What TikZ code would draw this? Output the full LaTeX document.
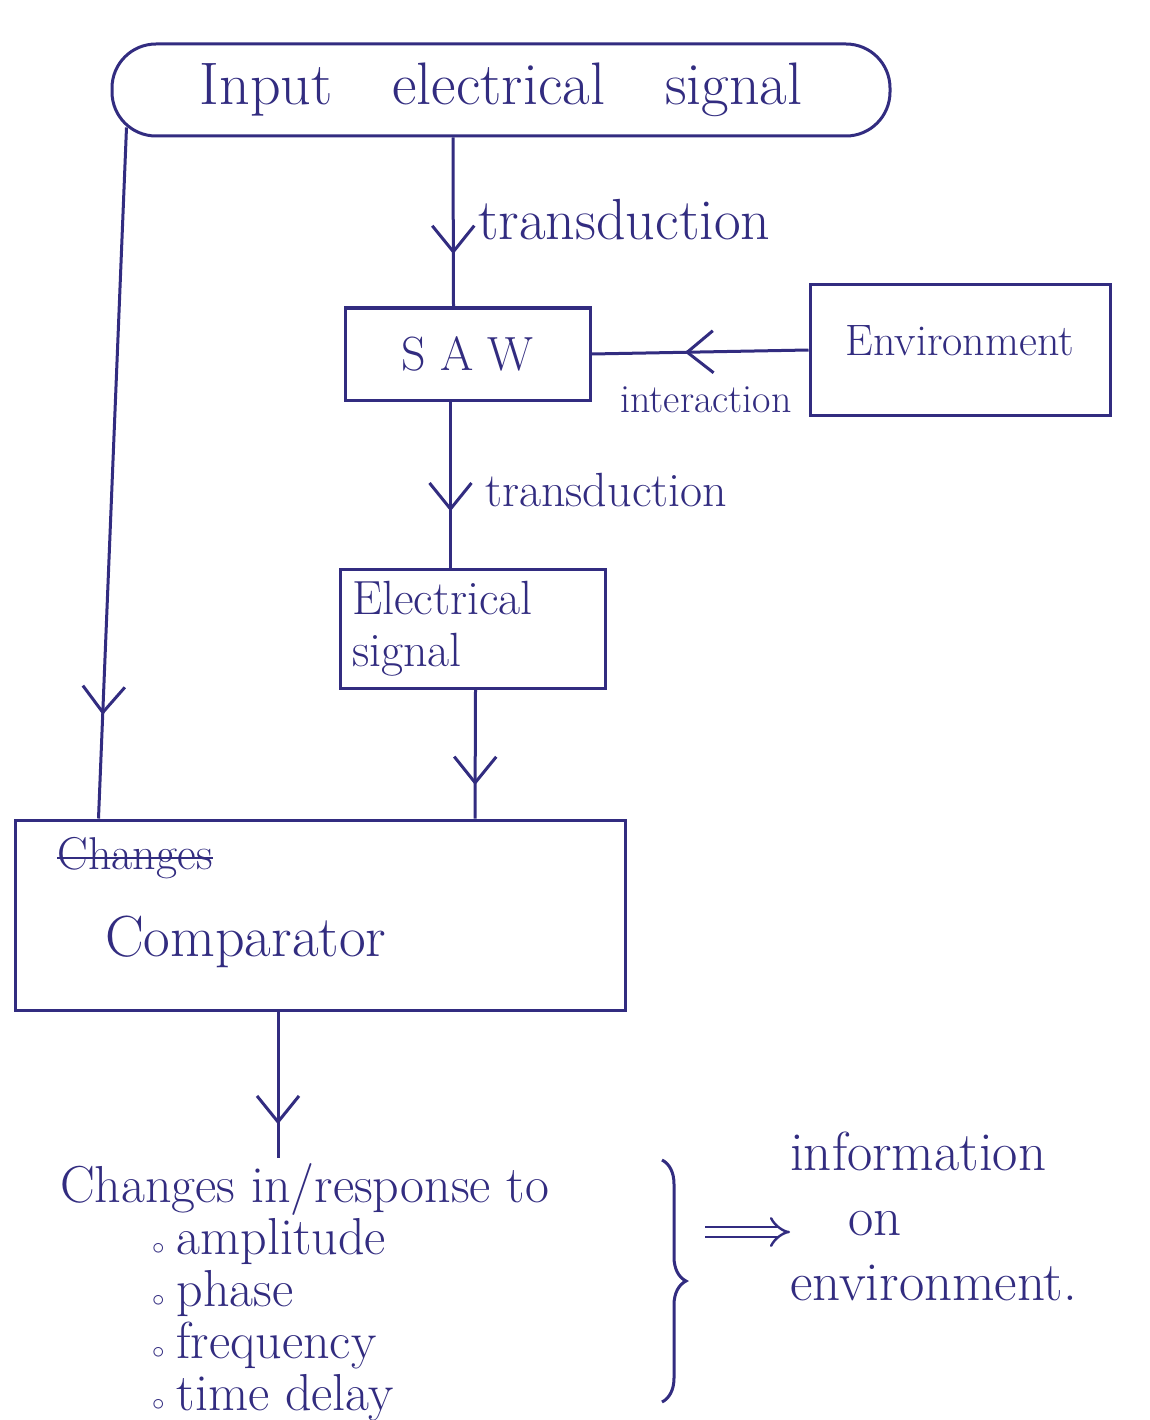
\documentclass[tikz,border=0pt]{standalone}
\usepackage{tikz}
\usepackage{xcolor}
\usetikzlibrary{arrows.meta,positioning,calc,decorations.markings,
                decorations.pathreplacing}
\definecolor{ink}{RGB}{50,44,128}
\tikzset{
  box/.style={draw=ink,line width=3pt,text=ink,inner sep=10pt},
  lbl/.style={text=ink,inner sep=0pt},
  flow/.style={draw=ink,line width=3pt,
    decoration={markings,mark=at position #1 with
      {\arrow{Straight Barb[length=26pt,width=42pt]}}},
    postaction=decorate}
}

\begin{document}
\begin{tikzpicture}[x=1pt,y=-1pt]
\useasboundingbox[fill=white] (0,0) rectangle (1149,1420);
\node[box,rounded corners=44pt,minimum width=778pt,minimum height=92pt,
      font=\fontsize{60}{68}\selectfont] (inp) at (501,90)
      {Input\hspace{1em}electrical\hspace{1em}signal};
\node[box,minimum width=245pt,minimum height=92pt,
      font=\fontsize{48}{56}\selectfont] (saw) at (467.5,354)
      {S\hspace{14pt}A\hspace{14pt}W};
\node[box,minimum width=300pt,minimum height=130pt,
      font=\fontsize{44}{50}\selectfont] (env) at (960,350)
      {\raisebox{18pt}{Environment}};
\node[box,minimum width=265pt,minimum height=118pt,text width=241pt,
      align=left,inner sep=12pt,font=\fontsize{48}{52}\selectfont]
      (elec) at (472.5,629) {Electrical\\signal};
\node[box,minimum width=610pt,minimum height=190pt] (comp) at (320,915) {};
\node[lbl,font=\fontsize{46}{50}\selectfont] (chg) at (135,858) {Changes};
\draw[ink,line width=2.4pt] (chg.west) -- (chg.east);
\node[lbl,anchor=west,font=\fontsize{58}{64}\selectfont] (cmpt) at (105,942)
      {Comparator};

\node[lbl,anchor=west,font=\fontsize{58}{64}\selectfont] (tr1) at (478,220)
      {transduction};
\node[lbl,anchor=west,font=\fontsize{48}{54}\selectfont] (tr2) at (485,490)
      {transduction};
\node[lbl,anchor=west,font=\fontsize{40}{46}\selectfont] (intr) at (620,400)
      {interaction};

\node[lbl,anchor=north west,align=left,font=\fontsize{52}{52}\selectfont]
      (resp) at (60,1163)
      {Changes in/response to\\
       \hspace*{92pt}$\circ$\hspace{12pt}amplitude\\
       \hspace*{92pt}$\circ$\hspace{12pt}phase\\
       \hspace*{92pt}$\circ$\hspace{12pt}frequency\\
       \hspace*{92pt}$\circ$\hspace{12pt}time delay};
\node[lbl,anchor=north west,align=left,font=\fontsize{55}{65}\selectfont]
      (info) at (790,1132)
      {information\\ \hspace*{58pt}on\\ environment.};

\coordinate (cdown) at (278,1158);
\coordinate (brtip) at (705,1232);

\draw[flow=0.69] ([xshift=-48pt]inp.south) -- ([xshift=-14pt]saw.north);
\draw[flow=0.66] ([xshift=-17pt]saw.south) -- ([xshift=-22pt]elec.north);
\draw[flow=0.74] ([xshift=3pt]elec.south) -- ([xshift=155pt]comp.north);
\draw[flow=0.57] (env.west) -- (saw.east);
\draw[flow=0.85] ([xshift=16pt,yshift=10pt]inp.south west)
      -- ([xshift=85pt]comp.north west);
\draw[flow=0.77] ([xshift=-42pt]comp.south) -- (cdown);

\draw[ink,line width=3pt,decorate,decoration={brace,amplitude=24pt}]
      (662,1160) -- (662,1402);
\draw[ink,line width=2.4pt,double distance=8pt,-{Implies}]
      (brtip) -- (brtip -| info.west);
\end{tikzpicture}
\end{document}
